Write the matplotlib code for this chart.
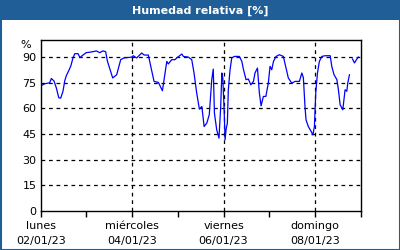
import numpy as np
import pandas as pd
import matplotlib
matplotlib.use("Agg")
import matplotlib.pyplot as plt
from matplotlib.patches import Rectangle

# hours since 02/01/23 00:00 and relative humidity (%)
hours = [0, 2.1, 4.7, 5.6, 7.0, 8.2, 9.5, 10.5, 11.7, 12.6, 13.4, 14.7, 15.8, 17.0,
         17.9, 19.6, 20.6, 22.2, 23.9, 26.6, 29.2, 31.0, 32.7, 34.1, 35.0, 37.8,
         39.9, 42.0, 43.7, 47.8, 48.6, 50.4, 53.0, 54.3, 56.5, 59.5, 61.8, 63.9,
         66.2, 67.0, 68.8, 70.5, 71.4, 74.1, 74.9, 77.5, 79.3, 80.5, 81.9, 83.3,
         84.6, 85.8, 87.2, 88.5, 89.8, 90.6, 91.2, 92.4, 93.6, 94.5, 95.1, 95.6,
         96.3, 96.8, 97.3, 98.0, 98.5, 99.4, 100.3, 101.7, 104.3, 105.6, 106.4,
         107.8, 109.0, 110.3, 111.7, 112.5, 113.8, 114.8, 115.7, 116.9, 118.2,
         119.5, 120.4, 121.3, 122.2, 123.6, 125.3, 127.4, 128.8, 130.0, 131.8,
         133.6, 135.8, 137.1, 137.9, 138.8, 139.3, 140.5, 142.0, 142.9, 143.7,
         144.4, 145.3, 146.3, 147.6, 149.3, 152.0, 152.8, 154.0, 155.5, 156.3,
         157.2, 158.6, 159.3, 159.8, 160.7, 161.2, 162.1, 162.9, 163.7, 164.7,
         166.0, 166.8]
humedad = [73.1, 74.4, 75, 77.5, 76, 72, 66.2, 66, 70, 76, 79, 82, 84.8, 89.7,
           92, 92, 89.7, 91.2, 92.6, 93, 93.6, 92.6, 93.6, 93.2, 87.7, 77.8,
           79.7, 88.5, 89.5, 90, 90.8, 89.5, 92.4, 91.2, 91.2, 75.8, 75.2, 70.3,
           87.5, 86, 88.5, 88.5, 89.5, 91.8, 90.4, 90, 88.5, 80.7, 69, 59.6,
           61.1, 49.4, 51.4, 56.3, 76.8, 83, 57.3, 47.5, 42.6, 61.1, 80.7, 77.8,
           59.2, 41.6, 47.5, 51.4, 70.9, 82.6, 89.5, 90.4, 90.4, 87.5, 83,
           76.8, 77.2, 73.8, 75.8, 80.7, 83.6, 69, 61.5, 67, 67,
           74.8, 84.6, 82.6, 87.5, 90.4, 91.4, 90.4, 83.6, 77.8, 74.8,
           75.8, 75.8, 80.7, 78, 60.2, 53.3, 49.4, 46.5, 44.5, 49.4,
           69, 80.7, 87.5, 90.4, 90.8, 90.8, 84.6, 79.7, 76.8, 70.9,
           62.1, 59.2, 66, 70.9, 70, 74.8, 79.7, np.nan, 88.9, 86.6,
           88.9, 90]

dias = ["lunes", "miércoles", "viernes", "domingo"]
fechas = ["02/01/23", "04/01/23", "06/01/23", "08/01/23"]
yticks = [0, 15, 30, 45, 60, 75, 90]

inicio = pd.Timestamp("2023-01-02")
t = inicio + pd.to_timedelta(hours, unit="h")

azul = "#1f5e96"
fig = plt.figure(figsize=(4, 2.5), dpi=100)

# title bar and frame
fig.patches.append(Rectangle((0, 1 - 20 / 250), 1, 20 / 250, transform=fig.transFigure,
                             facecolor=azul, edgecolor="none", zorder=0))
fig.patches.append(Rectangle((0.5 / 400, 0.5 / 250), 1 - 1 / 400, 1 - 1 / 250,
                             transform=fig.transFigure, facecolor="none",
                             edgecolor=azul, linewidth=1.5, zorder=0))
fig.text(0.5, 1 - 10.5 / 250, "Humedad relativa [%]", color="white", fontsize=8,
         fontweight="bold", ha="center", va="center")

ax = fig.add_axes([40.7 / 400, 1 - 211 / 250, 320 / 400, 171 / 250])
ax.plot(t, humedad, color="#0000ff", linewidth=0.9)

ax.set_xlim(inicio, inicio + pd.Timedelta(days=7))
ax.set_ylim(0, 100)
ax.set_yticks(yticks)
ax.set_yticklabels([str(v) for v in yticks])

major = [inicio + pd.Timedelta(days=2 * i) for i in range(4)]
ax.set_xticks(major)
ax.set_xticklabels([d + "\n" + f for d, f in zip(dias, fechas)], linespacing=1.6)
ax.set_xticks([inicio + pd.Timedelta(days=d) for d in range(1, 8, 2)], minor=True)

ax.tick_params(axis="y", length=0, pad=3, labelsize=8)
ax.tick_params(axis="x", which="both", direction="out", length=4, width=1, labelsize=8, pad=3)

for v in yticks[1:]:
    ax.axhline(v, color="black", linestyle=(0, (3, 3)), linewidth=0.9, zorder=0)
for m in major[1:]:
    ax.axvline(m, color="black", linestyle=(0, (3, 3)), linewidth=0.9, zorder=0)

for s in ax.spines.values():
    s.set_linewidth(1)

ax.text(-0.03, 97, "%", transform=ax.get_yaxis_transform(), fontsize=8,
        ha="right", va="center")

fig.savefig("out.png", dpi=100)
